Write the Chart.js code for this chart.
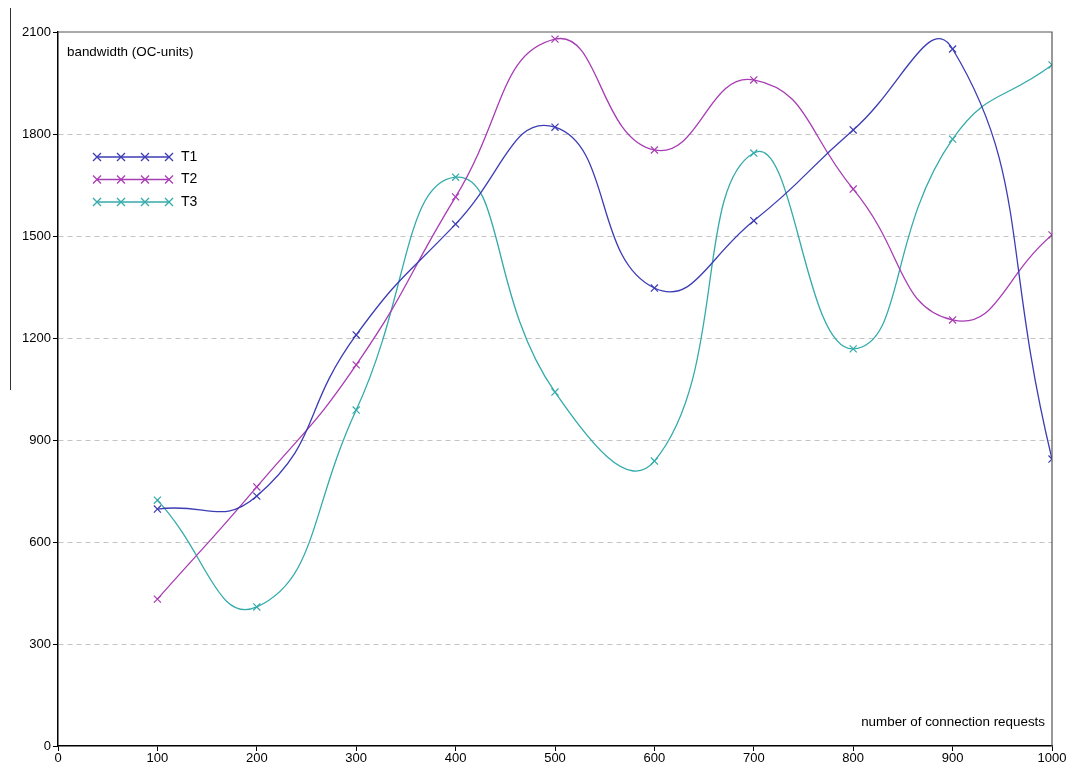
<!DOCTYPE html>
<html>
<head>
<meta charset="utf-8">
<script src="https://cdn.jsdelivr.net/npm/chart.js@4.4.1/dist/chart.umd.min.js"></script>
<style>
  html, body { margin: 0; padding: 0; background: #ffffff; }
  #wrap { position: relative; width: 1071px; height: 765px; }
</style>
</head>
<body>
<div id="wrap"><canvas id="chart_bandwidth"></canvas></div>
<script>
// values
var requests = [100, 200, 300, 400, 500, 600, 700, 800, 900, 1000];
var t1Values = [697, 735, 1209, 1535, 1820, 1347, 1545, 1812, 2050, 844];
var t2Values = [432, 762, 1121, 1615, 2079, 1753, 1959, 1638, 1253, 1503];
var t3Values = [723, 409, 988, 1673, 1041, 838, 1744, 1168, 1785, 2003];
var seriesLabels = ['T1', 'T2', 'T3'];
var seriesColors = ['#3c3cb4', '#a83cb4', '#34aaaa'];
var yAxisTitle = 'bandwidth (OC-units)';
var xAxisTitle = 'number of connection requests';

function toPoints(values) {
    return requests.map(function (r, i) { return { x: r, y: values[i] }; });
}

function makeDataset(i, values) {
    return {
        label: seriesLabels[i],
        data: toPoints(values),
        borderColor: seriesColors[i],
        backgroundColor: seriesColors[i],
        borderWidth: 1.3,
        tension: 0.5,
        pointStyle: 'crossRot',
        pointRadius: 5,
        pointBorderWidth: 1.2,
        pointBorderColor: seriesColors[i],
        fill: false
    };
}

function plainTick(value) {
    return String(value);
}

var chart_bandwidth = new Chart(document.getElementById('chart_bandwidth'), {
    type: 'line',
    data: {
        datasets: [
            makeDataset(0, t1Values),
            makeDataset(1, t2Values),
            makeDataset(2, t3Values)
        ]
    },
    options: {
        animation: false,
        responsive: true,
        maintainAspectRatio: false,
        layout: { padding: { top: 32, right: 19, left: 0, bottom: 0 } },
        elements: { line: { capBezierPoints: false } },
        plugins: {
            legend: { display: false },
            tooltip: { enabled: false }
        },
        scales: {
            x: {
                type: 'linear',
                min: 0,
                max: 1000,
                ticks: {
                    stepSize: 100,
                    color: '#000000',
                    padding: 0,
                    maxRotation: 0,
                    callback: plainTick,
                    font: { family: 'Liberation Sans', size: 13 }
                },
                grid: {
                    drawOnChartArea: false,
                    tickLength: 5,
                    tickColor: '#000000'
                },
                border: { color: '#000000', width: 1.5 },
                afterFit: function (scale) { scale.height = 19; }
            },
            y: {
                type: 'linear',
                min: 0,
                max: 2100,
                ticks: {
                    stepSize: 300,
                    color: '#000000',
                    padding: 2,
                    callback: plainTick,
                    font: { family: 'Liberation Sans', size: 13 }
                },
                grid: {
                    tickLength: 5,
                    tickColor: '#000000',
                    color: function (ctx) {
                        var v = ctx.tick ? ctx.tick.value : 0;
                        return (v === 0 || v === 2100) ? 'rgba(0,0,0,0)' : '#c4c4c4';
                    },
                    lineWidth: 1
                },
                border: { color: '#000000', width: 1.5, dash: [5, 4] },
                afterFit: function (scale) { scale.width = 58; }
            }
        }
    },
    plugins: [{
        id: 'customPlugin',
        beforeDraw: function (chart) {
            var ctx = chart.ctx;
            ctx.save();
            ctx.fillStyle = 'white';
            ctx.fillRect(0, 0, chart.width, chart.height);
            ctx.restore();
        },
        afterDraw: function (chart) {
            var ctx = chart.ctx;
            var a = chart.chartArea;
            ctx.save();
            // top and right frame
            ctx.strokeStyle = '#555555';
            ctx.lineWidth = 1.2;
            ctx.beginPath();
            ctx.moveTo(a.left, a.top);
            ctx.lineTo(a.right, a.top);
            ctx.lineTo(a.right, a.bottom);
            ctx.stroke();
            // stray line at the left edge of the picture
            ctx.strokeStyle = '#333333';
            ctx.lineWidth = 1;
            ctx.beginPath();
            ctx.moveTo(10.5, 8);
            ctx.lineTo(10.5, 390);
            ctx.stroke();
            // axis titles inside the plot
            ctx.fillStyle = '#000000';
            ctx.font = '13.4px "Liberation Sans"';
            ctx.textBaseline = 'middle';
            ctx.textAlign = 'left';
            ctx.fillText(yAxisTitle, a.left + 9, 52);
            ctx.textAlign = 'right';
            ctx.fillText(xAxisTitle, a.right - 7, 722);
            // legend inside the plot
            ctx.font = '14px "Liberation Sans"';
            ctx.textAlign = 'left';
            chart.data.datasets.forEach(function (ds, i) {
                var y = 157 + i * 22.5;
                var x0 = 97, x1 = 170;
                ctx.strokeStyle = ds.borderColor;
                ctx.lineWidth = 1.3;
                ctx.beginPath();
                ctx.moveTo(x0, y);
                ctx.lineTo(x1, y);
                ctx.stroke();
                [97, 121, 145, 169].forEach(function (cx) {
                    ctx.beginPath();
                    ctx.moveTo(cx - 4, y - 4);
                    ctx.lineTo(cx + 4, y + 4);
                    ctx.moveTo(cx - 4, y + 4);
                    ctx.lineTo(cx + 4, y - 4);
                    ctx.stroke();
                });
                ctx.fillStyle = '#000000';
                ctx.fillText(ds.label, 181, y);
            });
            ctx.restore();
        }
    }]
});
</script>
</body>
</html>
